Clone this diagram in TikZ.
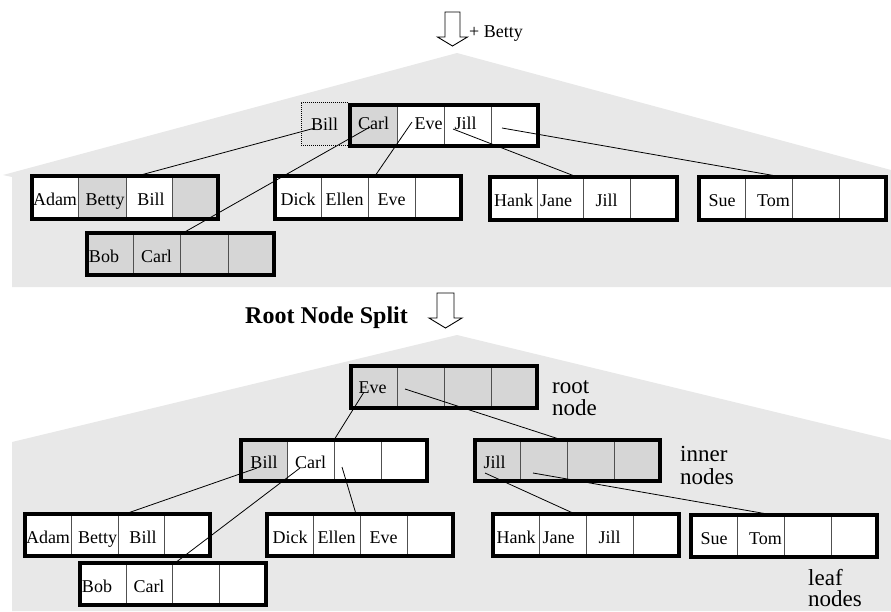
\documentclass[tikz,border=0pt]{standalone}
\usepackage{fontspec}
\setmainfont{Liberation Serif}
\usetikzlibrary{calc}
\definecolor{bgc}{HTML}{E8E8E8}
\definecolor{shc}{HTML}{D6D6D6}
\definecolor{shl}{HTML}{E2E2E2}
\definecolor{dvc}{HTML}{505050}
\newcommand\fsz[1]{\fontsize{#1}{#1}\selectfont}
\tikzset{
  cellst/.style={draw=dvc, line width=1pt, fill=white, inner sep=0pt, outer sep=0pt},
  shaded/.style={fill=shc},
  celltext/.style={inner sep=0pt, text height=17pt, text depth=1pt, font=\fsz{18}},
  border/.style={draw=black, line width=4pt},
  conn/.style={draw=black, line width=0.8pt},
  bgshape/.style={fill=bgc, draw=none},
  bigarrow/.style={draw=black, line width=0.9pt, fill=white},
  lbl/.style={anchor=base west, inner sep=0pt, font=\fsz{23}},
}
\newcommand\qcell[8][]{% [text opts]{name}{x0}{x1}{y0}{y1}{style}{text}
  \node[cellst,#7,minimum width={(#4-#3)*1pt},minimum height={(#6-#5)*1pt}] (#2) at ({(#3+#4)/2},{(#5+#6)/2}) {};%
  \node[celltext,#1] (#2t) at (#2.center) {#8};%
}
\newcommand\brd[1]{\draw[border] (#11.north west) rectangle (#14.south east);}
\begin{document}
\begin{tikzpicture}[x=1pt,y=-1pt]
\useasboundingbox (0,0) rectangle (891,611);
% backgrounds
\fill[bgshape] (457,53) -- (3,175) -- (12,177) -- (12,287) -- (891,287) -- (891,170) -- cycle;
\fill[bgshape] (457,335) -- (12,442) -- (12,611) -- (891,611) -- (891,440) -- cycle;
% arrows and labels
\draw[bigarrow] (445,12) -- (460,12) -- (460,37) -- (467.5,37) -- (452.5,46) -- (437.5,37) -- (445,37) -- cycle;
\node[anchor=base west, inner sep=0pt, font=\fsz{18}] (betty) at (469,37.3) {+ Betty};
\draw[bigarrow] (437,293) -- (454,293) -- (454,318) -- (462,318) -- (445.5,328) -- (429,318) -- (437,318) -- cycle;
\node[anchor=base west, inner sep=0pt, font=\fsz{24}\bfseries] (split) at (245,323.3) {Root Node Split};
\node[lbl] (rootl1) at (552,393) {root};
\node[lbl] (rootl2) at (552,415) {node};
\node[lbl] (innerl1) at (680,461.7) {inner};
\node[lbl] (innerl2) at (680,484) {nodes};
\node[lbl] (leafl1) at (808,585) {leaf};
\node[lbl] (leafl2) at (808,606) {nodes};
% ===== upper tree =====
\qcell[yshift=1.5pt]{ubill}{301}{348}{102}{145}{fill=shl,draw=black,densely dotted}{Bill}
\qcell[yshift=4pt]{ur1}{350}{397}{105}{146}{shaded}{Carl}
\qcell[yshift=4pt,xshift=8pt]{ur2}{397}{444}{105}{146}{}{Eve}
\qcell[yshift=4pt,xshift=-2pt]{ur3}{444}{491}{105}{146}{}{Jill}
\qcell{ur4}{491}{538}{105}{146}{}{}
\brd{ur}
\qcell{ua1}{32}{78}{176}{219}{}{Adam}
\qcell[xshift=3pt]{ua2}{78}{126}{176}{219}{shaded}{Betty}
\qcell[xshift=2pt]{ua3}{126}{172}{176}{219}{}{Bill}
\qcell{ua4}{172}{218}{176}{219}{shaded}{}
\brd{ua}
\qcell[xshift=-6pt]{uo1}{87}{133}{233}{275}{shaded}{Bob}
\qcell{uo2}{133}{180}{233}{275}{shaded}{Carl}
\qcell{uo3}{180}{228}{233}{275}{shaded}{}
\qcell{uo4}{228}{274}{233}{275}{shaded}{}
\brd{uo}
\qcell{ud1}{275}{321}{176}{219}{}{Dick}
\qcell{ud2}{321}{368}{176}{219}{}{Ellen}
\qcell{ud3}{368}{415}{176}{219}{}{Eve}
\qcell{ud4}{415}{461}{176}{219}{}{}
\brd{ud}
\qcell{uh1}{490}{537}{177}{220}{}{Hank}
\qcell[xshift=-4pt]{uh2}{537}{583}{177}{220}{}{Jane}
\qcell{uh3}{583}{630}{177}{220}{}{Jill}
\qcell{uh4}{630}{677}{177}{220}{}{}
\brd{uh}
\qcell{us1}{699}{745}{177}{220}{}{Sue}
\qcell[xshift=5pt]{us2}{745}{792}{177}{220}{}{Tom}
\qcell{us3}{792}{839}{177}{220}{}{}
\qcell{us4}{839}{886}{177}{220}{}{}
\brd{us}
% ===== lower tree =====
\qcell[yshift=2pt,xshift=-1.5pt]{lr1}{351}{397}{366}{408}{shaded}{Eve}
\qcell{lr2}{397}{444}{366}{408}{shaded}{}
\qcell{lr3}{444}{491}{366}{408}{shaded}{}
\qcell{lr4}{491}{537}{366}{408}{shaded}{}
\brd{lr}
\qcell{li1}{241}{287}{440}{481}{shaded}{Bill}
\qcell{li2}{287}{334}{440}{481}{}{Carl}
\qcell{li3}{334}{381}{440}{481}{}{}
\qcell{li4}{381}{427}{440}{481}{}{}
\brd{li}
\qcell[xshift=-3pt]{lj1}{475}{520}{440}{481}{shaded}{Jill}
\qcell{lj2}{520}{567}{440}{481}{shaded}{}
\qcell{lj3}{567}{614}{440}{481}{shaded}{}
\qcell{lj4}{614}{660}{440}{481}{shaded}{}
\brd{lj}
\qcell{la1}{25}{71}{514}{556}{}{Adam}
\qcell[xshift=3pt]{la2}{71}{118}{514}{556}{}{Betty}
\qcell[xshift=2pt]{la3}{118}{164}{514}{556}{}{Bill}
\qcell{la4}{164}{210}{514}{556}{}{}
\brd{la}
\qcell[xshift=-6pt]{lo1}{80}{126}{563}{605}{}{Bob}
\qcell{lo2}{126}{172}{563}{605}{}{Carl}
\qcell{lo3}{172}{219}{563}{605}{}{}
\qcell{lo4}{219}{266}{563}{605}{}{}
\brd{lo}
\qcell{ld1}{267}{313}{514}{556}{}{Dick}
\qcell{ld2}{313}{360}{514}{556}{}{Ellen}
\qcell{ld3}{360}{407}{514}{556}{}{Eve}
\qcell{ld4}{407}{453}{514}{556}{}{}
\brd{ld}
\qcell{lh1}{493}{539}{514}{556}{}{Hank}
\qcell[xshift=-4pt]{lh2}{539}{586}{514}{556}{}{Jane}
\qcell{lh3}{586}{633}{514}{556}{}{Jill}
\qcell{lh4}{633}{679}{514}{556}{}{}
\brd{lh}
\qcell{ls1}{691}{737}{515}{557}{}{Sue}
\qcell[xshift=5pt]{ls2}{737}{784}{515}{557}{}{Tom}
\qcell{ls3}{784}{831}{515}{557}{}{}
\qcell{ls4}{831}{877}{515}{557}{}{}
\brd{ls}
% ===== connectors =====
\draw[conn] ($(ubill.center)+(-9.5,4.5)$) -- ($(ua3.north west)+(11,0)$);
\draw[conn] ($(ur1.center)+(-3.5,1.5)$) -- ($(uo3.north west)+(3,0)$);
\draw[conn] ($(ur2.center)+(-8.5,-3.5)$) -- ($(ud3.north west)+(7,0)$);
\draw[conn] ($(ur3.center)+(-14.5,3.5)$) -- ($(uh3.north west)+(-6,0)$);
\draw[conn] ($(ur4.center)+(-12.5,2.5)$) -- ($(us3.north west)+(-10,0)$);
\draw[conn] ($(lr1.center)+(-10,5)$) -- (li3.north west);
\draw[conn] ($(lr2.center)+(-15.5,2)$) -- ($(lj3.north west)+(-5,0)$);
\draw[conn] ($(li1.center)+(-7,7.5)$) -- ($(la3.north west)+(7,0)$);
\draw[conn] ($(li2.center)+(-10.5,7.5)$) -- ($(lo3.north west)+(3,0)$);
\draw[conn] ($(li3.center)+(-15.5,6.5)$) -- ($(ld3.north west)+(-4,0)$);
\draw[conn] ($(lj1.center)+(-12.5,12.5)$) -- ($(lh3.north west)+(-11,0)$);
\draw[conn] ($(lj2.center)+(-10.5,12.5)$) -- ($(ls3.north west)+(-11,0)$);
\end{tikzpicture}
\end{document}
